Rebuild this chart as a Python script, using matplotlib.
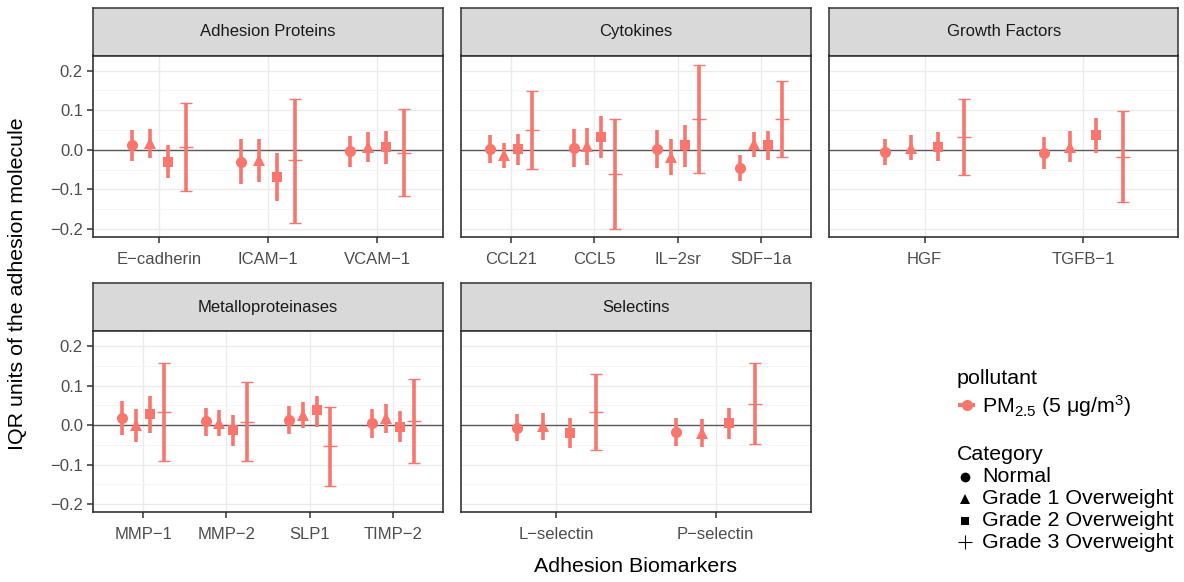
import matplotlib
matplotlib.use("Agg")
import matplotlib.pyplot as plt
import numpy as np

plt.rcParams['font.family'] = ['Liberation Sans', 'DejaVu Sans']
plt.rcParams['mathtext.fontset'] = 'custom'
plt.rcParams['mathtext.rm'] = 'Liberation Sans'
plt.rcParams['mathtext.it'] = 'Liberation Sans:italic'
plt.rcParams['axes.unicode_minus'] = True

# ---------------- data: IQR effect estimates with 95% CI ----------------
groups = ["Normal", "Grade 1 Overweight", "Grade 2 Overweight", "Grade 3 Overweight"]

adhesion_markers = ["E\u2212cadherin", "ICAM\u22121", "VCAM\u22121"]
adhesion_est = [[0.011, -0.030, -0.004], [0.016, -0.027, 0.008],
                [-0.030, -0.068, 0.006], [0.0075, -0.027, -0.007]]
adhesion_lo = [[-0.029, -0.086, -0.0425], [-0.022, -0.081, -0.030],
               [-0.072, -0.130, -0.037], [-0.103, -0.184, -0.116]]
adhesion_hi = [[0.050, 0.026, 0.034], [0.0525, 0.026, 0.045],
               [0.013, -0.009, 0.048], [0.119, 0.128, 0.1025]]

cytokine_markers = ["CCL21", "CCL5", "IL\u22122sr", "SDF\u22121a"]
cytokine_est = [[0.0025, 0.005, 0.003, -0.046], [-0.014, 0.009, -0.017, 0.0135],
                [0.002, 0.032, 0.012, 0.0125], [0.050, -0.061, 0.0775, 0.0775]]
cytokine_lo = [[-0.033, -0.044, -0.045, -0.080], [-0.047, -0.0375, -0.063, -0.019],
               [-0.0375, -0.022, -0.0425, -0.025], [-0.0475, -0.199, -0.059, -0.0175]]
cytokine_hi = [[0.037, 0.053, 0.051, -0.0125], [0.018, 0.056, 0.028, 0.046],
               [0.039, 0.085, 0.0625, 0.048], [0.148, 0.078, 0.214, 0.173]]

growth_markers = ["HGF", "TGFB\u22121"]
growth_est = [[-0.005, -0.008], [0.005, 0.0075], [0.0075, 0.037], [0.032, -0.018]]
growth_lo = [[-0.039, -0.048], [-0.027, -0.032], [-0.029, -0.007], [-0.063, -0.1325]]
growth_hi = [[0.028, 0.0325], [0.037, 0.047], [0.044, 0.081], [0.127, 0.097]]

metallo_markers = ["MMP\u22121", "MMP\u22122", "SLP1", "TIMP\u22122"]
metallo_est = [[0.0175, 0.009, 0.012, 0.004], [-0.0005, 0.0055, 0.025, 0.0165],
               [0.027, -0.013, 0.037, -0.004], [0.0325, 0.008, -0.054, 0.010]]
metallo_lo = [[-0.026, -0.027, -0.023, -0.033], [-0.042, -0.028, -0.008, -0.019],
              [-0.021, -0.0525, -0.004, -0.043], [-0.090, -0.090, -0.155, -0.095]]
metallo_hi = [[0.061, 0.044, 0.0475, 0.041], [0.041, 0.039, 0.058, 0.052],
              [0.073, 0.025, 0.073, 0.036], [0.156, 0.108, 0.0467, 0.117]]

selectin_markers = ["L\u2212selectin", "P\u2212selectin"]
selectin_est = [[-0.0075, -0.0175], [-0.0035, -0.0205], [-0.019, 0.004], [0.0325, 0.054]]
selectin_lo = [[-0.041, -0.054], [-0.037, -0.056], [-0.0575, -0.036], [-0.064, -0.047]]
selectin_hi = [[0.028, 0.018], [0.030, 0.015], [0.018, 0.043], [0.130, 0.158]]

y_ticks = [-0.2, -0.1, 0.0, 0.1, 0.2]

# ---------------- styling ----------------
W, H = 1184, 582
fig = plt.figure(figsize=(W / 100, H / 100), dpi=100)

COL = "#F8766D"
DARK = "#333333"
TICK_TXT = "#4D4D4D"
group_markers = ["o", "^", "s", "+"]
group_msize = [8.0, 8.5, 6.8, 10.5]
offsets = [-0.25, -1 / 12, 1 / 12, 0.25]


def px_axes(x0, y0, x1, y1):
    """Axes placed by pixel box (y measured from the top)."""
    return fig.add_axes([x0 / W, 1 - y1 / H, (x1 - x0) / W, (y1 - y0) / H])


def panel(box, title, markers, est, lo, hi, show_y):
    x0, y0, x1, y1 = box
    strip = px_axes(x0, y0 - 47.5, x1, y0)
    strip.set_facecolor("#D9D9D9")
    strip.set_xticks([])
    strip.set_yticks([])
    for s in strip.spines.values():
        s.set_color(DARK)
        s.set_linewidth(1.1)
    strip.text(0.5, 0.5, title, ha="center", va="center", fontsize=12,
               color="#1A1A1A", transform=strip.transAxes)

    ax = px_axes(x0, y0, x1, y1)
    n = len(markers)
    pos = np.arange(n)
    ax.set_xlim(-0.6, n - 0.4)
    ax.set_ylim(-0.221, 0.238)
    ax.set_xticks(pos)
    ax.set_xticklabels(markers)
    ax.set_yticks(y_ticks)
    ax.set_yticks([-0.15, -0.05, 0.05, 0.15], minor=True)
    ax.grid(True, which="major", color="#EBEBEB", lw=1.0, zorder=0)
    ax.grid(True, which="minor", axis="y", color="#F4F4F4", lw=0.6, zorder=0)
    ax.set_axisbelow(True)
    ax.axhline(0, color="#5A5A5A", lw=1.0, zorder=1)
    for s in ax.spines.values():
        s.set_color(DARK)
        s.set_linewidth(1.2)
    ax.tick_params(axis="both", which="major", length=4.5, width=1.1, color=DARK,
                   labelsize=12, labelcolor=TICK_TXT)
    ax.tick_params(axis="x", pad=6)
    ax.tick_params(axis="y", pad=3)
    ax.tick_params(which="minor", length=0)
    if show_y:
        ax.set_yticklabels(["\u22120.2", "\u22120.1", "0.0", "0.1", "0.2"])
    else:
        ax.set_yticklabels([])
        ax.tick_params(axis="y", length=0)

    for g in range(4):
        e = np.array(est[g])
        l = np.array(lo[g])
        h = np.array(hi[g])
        mew = 1.0 if group_markers[g] == "+" else 0
        ax.errorbar(pos + offsets[g], e, yerr=[e - l, h - e], fmt=group_markers[g],
                    color=COL, ecolor=COL, elinewidth=2.6, capsize=4.2, capthick=2.6,
                    markersize=group_msize[g], markeredgewidth=mew, zorder=3)
    return ax


cols = [(93.3, 442.7), (461.0, 811.0), (829.3, 1178.5)]
row1 = (55.5, 237.3)
row2 = (331.0, 512.3)

panel((cols[0][0], row1[0], cols[0][1], row1[1]), "Adhesion Proteins",
      adhesion_markers, adhesion_est, adhesion_lo, adhesion_hi, True)
panel((cols[1][0], row1[0], cols[1][1], row1[1]), "Cytokines",
      cytokine_markers, cytokine_est, cytokine_lo, cytokine_hi, False)
panel((cols[2][0], row1[0], cols[2][1], row1[1]), "Growth Factors",
      growth_markers, growth_est, growth_lo, growth_hi, False)
panel((cols[0][0], row2[0], cols[0][1], row2[1]), "Metalloproteinases",
      metallo_markers, metallo_est, metallo_lo, metallo_hi, True)
panel((cols[1][0], row2[0], cols[1][1], row2[1]), "Selectins",
      selectin_markers, selectin_est, selectin_lo, selectin_hi, False)

# axis titles
fig.text(636 / W, 1 - 566 / H, "Adhesion Biomarkers", ha="center", va="center",
         fontsize=15.4, color="black")
fig.text(18 / W, 1 - 284 / H, "IQR units of the adhesion molecule", ha="center",
         va="center", rotation=90, fontsize=15.4, color="black")

# legends drawn in a pixel-scaled helper axes
leg = px_axes(940, 360, 1184, 560)
leg.set_xlim(940, 1184)
leg.set_ylim(560, 360)
leg.axis("off")

leg.text(957, 378, "pollutant", ha="left", va="center", fontsize=15.4)
leg.plot([958, 975], [405, 405], color=COL, lw=3, solid_capstyle="butt")
leg.plot([966.5], [405], marker="o", color=COL, markersize=8, markeredgewidth=0)
leg.text(982, 406, "PM$_{\\mathregular{2.5}}$ (5 \u03bcg/m$^{\\mathregular{3}}$)",
         ha="left", va="center", fontsize=15.4)

leg.text(957, 455, "Category", ha="left", va="center", fontsize=15.4)
item_y = [477, 499, 521, 542]
leg_msize = [7.0, 7.5, 6.0, 10.0]
for g in range(4):
    mew = 0.8 if group_markers[g] == "+" else 0
    leg.plot([965], [item_y[g]], marker=group_markers[g], color="black",
             markersize=leg_msize[g], markeredgewidth=mew)
    leg.text(982, item_y[g], groups[g], ha="left", va="center", fontsize=15.4)

fig.savefig("out.png", dpi=100)
